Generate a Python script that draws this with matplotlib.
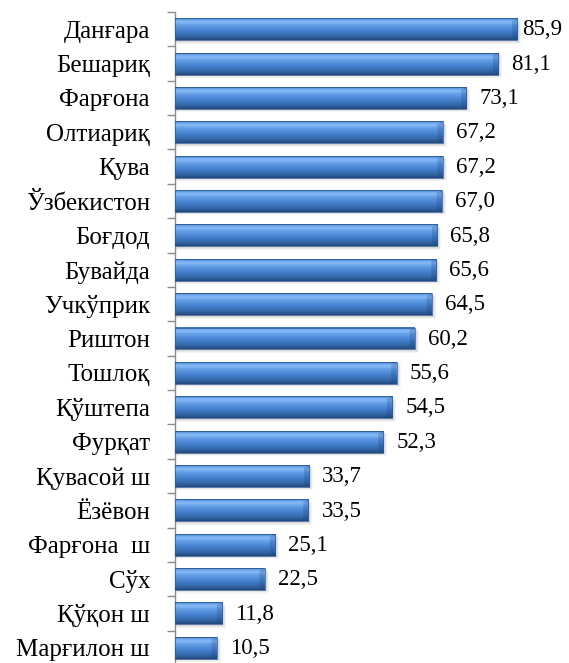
import numpy as np
import matplotlib
matplotlib.use("Agg")
import matplotlib.pyplot as plt
from matplotlib.colors import LinearSegmentedColormap
from matplotlib.patches import Rectangle, Polygon

categories = ["Данғара", "Бешариқ", "Фарғона", "Олтиариқ", "Қува", "Ўзбекистон",
              "Боғдод", "Бувайда", "Учкўприк", "Риштон", "Тошлоқ", "Қўштепа",
              "Фурқат", "Қувасой ш", "Ёзёвон", "Фарғона  ш", "Сўх", "Қўқон ш",
              "Марғилон ш"]
values = [85.9, 81.1, 73.1, 67.2, 67.2, 67.0, 65.8, 65.6, 64.5, 60.2, 55.6, 54.5,
          52.3, 33.7, 33.5, 25.1, 22.5, 11.8, 10.5]

plt.rcParams['font.family'] = ['Liberation Serif', 'DejaVu Serif']

W, H = 569, 663
fig = plt.figure(figsize=(W / 100, H / 100), dpi=100)
ax = fig.add_axes([175 / W, -2 / H, 358.6 / W, 653 / H])

n = len(values)
h = 0.64
cmap = LinearSegmentedColormap.from_list('bar', [
    (0.0, '#3566ab'), (0.07, '#6ea8ee'), (0.18, '#86bbf7'), (0.33, '#619ce5'),
    (0.6, '#437fcd'), (0.85, '#3265a3'), (1.0, '#22487e')])
grad = np.linspace(0, 1, 64).reshape(-1, 1)

for i, v in enumerate(values):
    top, bot = i - h / 2, i + h / 2
    # soft shadow
    for k, a in enumerate([0.10, 0.08, 0.06]):
        d = 0.04 + 0.03 * k
        ax.add_patch(Rectangle((0.2, top + d), v + 0.3 + 0.25 * k, h, color='#555555',
                               alpha=a, lw=0, zorder=2))
    ax.imshow(grad, extent=(0, v, bot, top), origin='upper', cmap=cmap,
              aspect='auto', zorder=3, interpolation='bilinear')
    b = 1.3
    e = 0.08
    ax.add_patch(Polygon([(v - b, top + e), (v, top), (v, bot), (v - b, bot - e)],
                         closed=True, color='#1a3a6e', alpha=0.22, lw=0, zorder=4))
    ax.add_patch(Rectangle((0, top), v, h, fill=False, ec='#2a5594', lw=0.5, zorder=5))
    label = f"{v:.1f}".replace('.', ',')
    off = 5 if i == 0 else 13
    ax.annotate(label, (v, i + 0.02), xytext=(off, 0), textcoords='offset pixels',
                ha='left', va='center', fontsize=16.5, color='black', zorder=6)

ax.set_xlim(0, 90)
ax.set_ylim(n - 0.5, -0.5)
ax.set_yticks(np.arange(n))
ax.set_yticklabels(categories, fontsize=18)
ax.tick_params(axis='y', which='major', length=0, pad=18)
ax.set_yticks(np.arange(n + 1) - 0.5, minor=True)
ax.tick_params(axis='y', which='minor', length=6, width=1.0, color='#8c8c8c')
ax.set_xticks([])
for s in ['top', 'right', 'bottom']:
    ax.spines[s].set_visible(False)
ax.spines['left'].set_color('#8c8c8c')
ax.spines['left'].set_linewidth(1.0)
ax.patch.set_alpha(0)

fig.savefig('out.png', dpi=100)
